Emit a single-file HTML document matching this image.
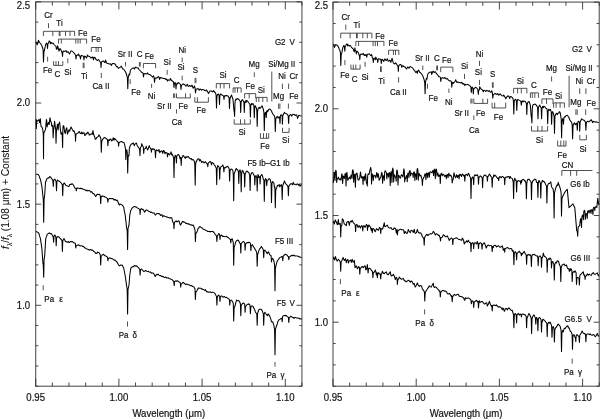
<!DOCTYPE html>
<html><head><meta charset="utf-8"><style>html,body{margin:0;padding:0;background:#fff;width:600px;height:419px;overflow:hidden}svg{display:block}</style></head><body>
<svg width="600" height="419" viewBox="0 0 600 419">
<style>text{font-family:"Liberation Sans",sans-serif;fill:#111;stroke:#111;stroke-width:0.18}.fr{fill:none;stroke:#555;stroke-width:1.1}.tk{stroke:#333;stroke-width:0.9}.an{stroke:#333;stroke-width:0.85}.sp{fill:none;stroke:#000;stroke-width:1.05;stroke-linejoin:round}</style>
<rect width="600" height="419" fill="#fff"/>
<g style="will-change:transform">
<rect x="35.7" y="1.85" width="266.24" height="384.37" class="fr"/>
<line x1="35.7" y1="386.22" x2="35.7" y2="378.72" class="tk"/>
<line x1="35.7" y1="1.85" x2="35.7" y2="9.35" class="tk"/>
<text transform="translate(35.7,400.8) scale(1,1.06)" font-size="9.6" text-anchor="middle">0.95</text>
<line x1="52.34" y1="386.22" x2="52.34" y2="382.52" class="tk"/>
<line x1="52.34" y1="1.85" x2="52.34" y2="5.55" class="tk"/>
<line x1="68.98" y1="386.22" x2="68.98" y2="382.52" class="tk"/>
<line x1="68.98" y1="1.85" x2="68.98" y2="5.55" class="tk"/>
<line x1="85.62" y1="386.22" x2="85.62" y2="382.52" class="tk"/>
<line x1="85.62" y1="1.85" x2="85.62" y2="5.55" class="tk"/>
<line x1="102.26" y1="386.22" x2="102.26" y2="382.52" class="tk"/>
<line x1="102.26" y1="1.85" x2="102.26" y2="5.55" class="tk"/>
<line x1="118.9" y1="386.22" x2="118.9" y2="378.72" class="tk"/>
<line x1="118.9" y1="1.85" x2="118.9" y2="9.35" class="tk"/>
<text transform="translate(118.9,400.8) scale(1,1.06)" font-size="9.6" text-anchor="middle">1.00</text>
<line x1="135.54" y1="386.22" x2="135.54" y2="382.52" class="tk"/>
<line x1="135.54" y1="1.85" x2="135.54" y2="5.55" class="tk"/>
<line x1="152.18" y1="386.22" x2="152.18" y2="382.52" class="tk"/>
<line x1="152.18" y1="1.85" x2="152.18" y2="5.55" class="tk"/>
<line x1="168.82" y1="386.22" x2="168.82" y2="382.52" class="tk"/>
<line x1="168.82" y1="1.85" x2="168.82" y2="5.55" class="tk"/>
<line x1="185.46" y1="386.22" x2="185.46" y2="382.52" class="tk"/>
<line x1="185.46" y1="1.85" x2="185.46" y2="5.55" class="tk"/>
<line x1="202.1" y1="386.22" x2="202.1" y2="378.72" class="tk"/>
<line x1="202.1" y1="1.85" x2="202.1" y2="9.35" class="tk"/>
<text transform="translate(202.1,400.8) scale(1,1.06)" font-size="9.6" text-anchor="middle">1.05</text>
<line x1="218.74" y1="386.22" x2="218.74" y2="382.52" class="tk"/>
<line x1="218.74" y1="1.85" x2="218.74" y2="5.55" class="tk"/>
<line x1="235.38" y1="386.22" x2="235.38" y2="382.52" class="tk"/>
<line x1="235.38" y1="1.85" x2="235.38" y2="5.55" class="tk"/>
<line x1="252.02" y1="386.22" x2="252.02" y2="382.52" class="tk"/>
<line x1="252.02" y1="1.85" x2="252.02" y2="5.55" class="tk"/>
<line x1="268.66" y1="386.22" x2="268.66" y2="382.52" class="tk"/>
<line x1="268.66" y1="1.85" x2="268.66" y2="5.55" class="tk"/>
<line x1="285.3" y1="386.22" x2="285.3" y2="378.72" class="tk"/>
<line x1="285.3" y1="1.85" x2="285.3" y2="9.35" class="tk"/>
<text transform="translate(285.3,400.8) scale(1,1.06)" font-size="9.6" text-anchor="middle">1.10</text>
<line x1="301.94" y1="386.22" x2="301.94" y2="382.52" class="tk"/>
<line x1="301.94" y1="1.85" x2="301.94" y2="5.55" class="tk"/>
<line x1="35.7" y1="386.22" x2="38.4" y2="386.22" class="tk"/>
<line x1="301.94" y1="386.22" x2="299.24" y2="386.22" class="tk"/>
<line x1="35.7" y1="365.99" x2="38.4" y2="365.99" class="tk"/>
<line x1="301.94" y1="365.99" x2="299.24" y2="365.99" class="tk"/>
<line x1="35.7" y1="345.76" x2="38.4" y2="345.76" class="tk"/>
<line x1="301.94" y1="345.76" x2="299.24" y2="345.76" class="tk"/>
<line x1="35.7" y1="325.53" x2="38.4" y2="325.53" class="tk"/>
<line x1="301.94" y1="325.53" x2="299.24" y2="325.53" class="tk"/>
<line x1="35.7" y1="305.3" x2="41.2" y2="305.3" class="tk"/>
<line x1="301.94" y1="305.3" x2="296.44" y2="305.3" class="tk"/>
<text transform="translate(30.2,308.7) scale(1,1.06)" font-size="9.6" text-anchor="end">1.0</text>
<line x1="35.7" y1="285.07" x2="38.4" y2="285.07" class="tk"/>
<line x1="301.94" y1="285.07" x2="299.24" y2="285.07" class="tk"/>
<line x1="35.7" y1="264.84" x2="38.4" y2="264.84" class="tk"/>
<line x1="301.94" y1="264.84" x2="299.24" y2="264.84" class="tk"/>
<line x1="35.7" y1="244.61" x2="38.4" y2="244.61" class="tk"/>
<line x1="301.94" y1="244.61" x2="299.24" y2="244.61" class="tk"/>
<line x1="35.7" y1="224.38" x2="38.4" y2="224.38" class="tk"/>
<line x1="301.94" y1="224.38" x2="299.24" y2="224.38" class="tk"/>
<line x1="35.7" y1="204.15" x2="41.2" y2="204.15" class="tk"/>
<line x1="301.94" y1="204.15" x2="296.44" y2="204.15" class="tk"/>
<text transform="translate(30.2,207.55) scale(1,1.06)" font-size="9.6" text-anchor="end">1.5</text>
<line x1="35.7" y1="183.92" x2="38.4" y2="183.92" class="tk"/>
<line x1="301.94" y1="183.92" x2="299.24" y2="183.92" class="tk"/>
<line x1="35.7" y1="163.69" x2="38.4" y2="163.69" class="tk"/>
<line x1="301.94" y1="163.69" x2="299.24" y2="163.69" class="tk"/>
<line x1="35.7" y1="143.46" x2="38.4" y2="143.46" class="tk"/>
<line x1="301.94" y1="143.46" x2="299.24" y2="143.46" class="tk"/>
<line x1="35.7" y1="123.23" x2="38.4" y2="123.23" class="tk"/>
<line x1="301.94" y1="123.23" x2="299.24" y2="123.23" class="tk"/>
<line x1="35.7" y1="103" x2="41.2" y2="103" class="tk"/>
<line x1="301.94" y1="103" x2="296.44" y2="103" class="tk"/>
<text transform="translate(30.2,106.4) scale(1,1.06)" font-size="9.6" text-anchor="end">2.0</text>
<line x1="35.7" y1="82.77" x2="38.4" y2="82.77" class="tk"/>
<line x1="301.94" y1="82.77" x2="299.24" y2="82.77" class="tk"/>
<line x1="35.7" y1="62.54" x2="38.4" y2="62.54" class="tk"/>
<line x1="301.94" y1="62.54" x2="299.24" y2="62.54" class="tk"/>
<line x1="35.7" y1="42.31" x2="38.4" y2="42.31" class="tk"/>
<line x1="301.94" y1="42.31" x2="299.24" y2="42.31" class="tk"/>
<line x1="35.7" y1="22.08" x2="38.4" y2="22.08" class="tk"/>
<line x1="301.94" y1="22.08" x2="299.24" y2="22.08" class="tk"/>
<line x1="35.7" y1="1.85" x2="41.2" y2="1.85" class="tk"/>
<line x1="301.94" y1="1.85" x2="296.44" y2="1.85" class="tk"/>
<text transform="translate(30.2,8.6) scale(1,1.06)" font-size="9.6" text-anchor="end">2.5</text>
<text transform="translate(168.82,416.7) scale(1,1.06)" font-size="9.6" text-anchor="middle">Wavelength (μm)</text>
<rect x="333" y="2.1" width="266.24" height="384.12" class="fr"/>
<line x1="333" y1="386.22" x2="333" y2="378.72" class="tk"/>
<line x1="333" y1="2.1" x2="333" y2="9.6" class="tk"/>
<text transform="translate(333,400.8) scale(1,1.06)" font-size="9.6" text-anchor="middle">0.95</text>
<line x1="349.64" y1="386.22" x2="349.64" y2="382.52" class="tk"/>
<line x1="349.64" y1="2.1" x2="349.64" y2="5.8" class="tk"/>
<line x1="366.28" y1="386.22" x2="366.28" y2="382.52" class="tk"/>
<line x1="366.28" y1="2.1" x2="366.28" y2="5.8" class="tk"/>
<line x1="382.92" y1="386.22" x2="382.92" y2="382.52" class="tk"/>
<line x1="382.92" y1="2.1" x2="382.92" y2="5.8" class="tk"/>
<line x1="399.56" y1="386.22" x2="399.56" y2="382.52" class="tk"/>
<line x1="399.56" y1="2.1" x2="399.56" y2="5.8" class="tk"/>
<line x1="416.2" y1="386.22" x2="416.2" y2="378.72" class="tk"/>
<line x1="416.2" y1="2.1" x2="416.2" y2="9.6" class="tk"/>
<text transform="translate(416.2,400.8) scale(1,1.06)" font-size="9.6" text-anchor="middle">1.00</text>
<line x1="432.84" y1="386.22" x2="432.84" y2="382.52" class="tk"/>
<line x1="432.84" y1="2.1" x2="432.84" y2="5.8" class="tk"/>
<line x1="449.48" y1="386.22" x2="449.48" y2="382.52" class="tk"/>
<line x1="449.48" y1="2.1" x2="449.48" y2="5.8" class="tk"/>
<line x1="466.12" y1="386.22" x2="466.12" y2="382.52" class="tk"/>
<line x1="466.12" y1="2.1" x2="466.12" y2="5.8" class="tk"/>
<line x1="482.76" y1="386.22" x2="482.76" y2="382.52" class="tk"/>
<line x1="482.76" y1="2.1" x2="482.76" y2="5.8" class="tk"/>
<line x1="499.4" y1="386.22" x2="499.4" y2="378.72" class="tk"/>
<line x1="499.4" y1="2.1" x2="499.4" y2="9.6" class="tk"/>
<text transform="translate(499.4,400.8) scale(1,1.06)" font-size="9.6" text-anchor="middle">1.05</text>
<line x1="516.04" y1="386.22" x2="516.04" y2="382.52" class="tk"/>
<line x1="516.04" y1="2.1" x2="516.04" y2="5.8" class="tk"/>
<line x1="532.68" y1="386.22" x2="532.68" y2="382.52" class="tk"/>
<line x1="532.68" y1="2.1" x2="532.68" y2="5.8" class="tk"/>
<line x1="549.32" y1="386.22" x2="549.32" y2="382.52" class="tk"/>
<line x1="549.32" y1="2.1" x2="549.32" y2="5.8" class="tk"/>
<line x1="565.96" y1="386.22" x2="565.96" y2="382.52" class="tk"/>
<line x1="565.96" y1="2.1" x2="565.96" y2="5.8" class="tk"/>
<line x1="582.6" y1="386.22" x2="582.6" y2="378.72" class="tk"/>
<line x1="582.6" y1="2.1" x2="582.6" y2="9.6" class="tk"/>
<text transform="translate(582.6,400.8) scale(1,1.06)" font-size="9.6" text-anchor="middle">1.10</text>
<line x1="599.24" y1="386.22" x2="599.24" y2="382.52" class="tk"/>
<line x1="599.24" y1="2.1" x2="599.24" y2="5.8" class="tk"/>
<line x1="333" y1="386.22" x2="335.7" y2="386.22" class="tk"/>
<line x1="599.24" y1="386.22" x2="596.54" y2="386.22" class="tk"/>
<line x1="333" y1="364.88" x2="335.7" y2="364.88" class="tk"/>
<line x1="599.24" y1="364.88" x2="596.54" y2="364.88" class="tk"/>
<line x1="333" y1="343.54" x2="335.7" y2="343.54" class="tk"/>
<line x1="599.24" y1="343.54" x2="596.54" y2="343.54" class="tk"/>
<line x1="333" y1="322.2" x2="338.5" y2="322.2" class="tk"/>
<line x1="599.24" y1="322.2" x2="593.74" y2="322.2" class="tk"/>
<text transform="translate(328,325.6) scale(1,1.06)" font-size="9.6" text-anchor="end">1.0</text>
<line x1="333" y1="300.86" x2="335.7" y2="300.86" class="tk"/>
<line x1="599.24" y1="300.86" x2="596.54" y2="300.86" class="tk"/>
<line x1="333" y1="279.52" x2="335.7" y2="279.52" class="tk"/>
<line x1="599.24" y1="279.52" x2="596.54" y2="279.52" class="tk"/>
<line x1="333" y1="258.18" x2="335.7" y2="258.18" class="tk"/>
<line x1="599.24" y1="258.18" x2="596.54" y2="258.18" class="tk"/>
<line x1="333" y1="236.84" x2="335.7" y2="236.84" class="tk"/>
<line x1="599.24" y1="236.84" x2="596.54" y2="236.84" class="tk"/>
<line x1="333" y1="215.5" x2="338.5" y2="215.5" class="tk"/>
<line x1="599.24" y1="215.5" x2="593.74" y2="215.5" class="tk"/>
<text transform="translate(328,218.9) scale(1,1.06)" font-size="9.6" text-anchor="end">1.5</text>
<line x1="333" y1="194.16" x2="335.7" y2="194.16" class="tk"/>
<line x1="599.24" y1="194.16" x2="596.54" y2="194.16" class="tk"/>
<line x1="333" y1="172.82" x2="335.7" y2="172.82" class="tk"/>
<line x1="599.24" y1="172.82" x2="596.54" y2="172.82" class="tk"/>
<line x1="333" y1="151.48" x2="335.7" y2="151.48" class="tk"/>
<line x1="599.24" y1="151.48" x2="596.54" y2="151.48" class="tk"/>
<line x1="333" y1="130.14" x2="335.7" y2="130.14" class="tk"/>
<line x1="599.24" y1="130.14" x2="596.54" y2="130.14" class="tk"/>
<line x1="333" y1="108.8" x2="338.5" y2="108.8" class="tk"/>
<line x1="599.24" y1="108.8" x2="593.74" y2="108.8" class="tk"/>
<text transform="translate(328,112.2) scale(1,1.06)" font-size="9.6" text-anchor="end">2.0</text>
<line x1="333" y1="87.46" x2="335.7" y2="87.46" class="tk"/>
<line x1="599.24" y1="87.46" x2="596.54" y2="87.46" class="tk"/>
<line x1="333" y1="66.12" x2="335.7" y2="66.12" class="tk"/>
<line x1="599.24" y1="66.12" x2="596.54" y2="66.12" class="tk"/>
<line x1="333" y1="44.78" x2="335.7" y2="44.78" class="tk"/>
<line x1="599.24" y1="44.78" x2="596.54" y2="44.78" class="tk"/>
<line x1="333" y1="23.44" x2="335.7" y2="23.44" class="tk"/>
<line x1="599.24" y1="23.44" x2="596.54" y2="23.44" class="tk"/>
<line x1="333" y1="2.1" x2="338.5" y2="2.1" class="tk"/>
<line x1="599.24" y1="2.1" x2="593.74" y2="2.1" class="tk"/>
<text transform="translate(328,8.6) scale(1,1.06)" font-size="9.6" text-anchor="end">2.5</text>
<text transform="translate(466.12,416.7) scale(1,1.06)" font-size="9.6" text-anchor="middle">Wavelength (μm)</text>
<text transform="translate(8.7,192.4) rotate(-90)" font-size="10.1" text-anchor="middle" style="stroke-width:0.08"><tspan font-style="italic">f</tspan><tspan font-size="6.5" dy="3.1">λ</tspan><tspan dy="-3.1">/</tspan><tspan font-style="italic">f</tspan><tspan font-size="6.5" dy="3.1">λ</tspan><tspan dy="-3.1"> (1.08 μm) + Constant</tspan></text>
<polyline points="36,42 37.2,44.67 38,42.8 38.4,40.26 39.5,42.5 40.5,43.5 41.5,45 42,46.36 42.5,47.5 43.1,49.67 43.5,62 43.9,51.8 44.5,50 45.5,45 46.5,43 47.1,43.83 47.5,48.5 47.9,43.83 48.5,43 49.2,41 50,41.5 50.4,43.76 51,42.5 51.6,43.05 52,43.5 53,43 54,44.5 55,45.5 56,46.5 56.4,49.24 57,49 57.6,45.66 58,47.5 59,51 60,48.5 61,50 62,52.5 62.25,53.1 62.5,56.5 62.9,51.83 63.5,51 65,51.5 66,50.5 67,52.5 68,51.5 68.4,52.51 69.5,54 71,51 72,51 73.5,52.5 74.4,53.47 75,54.5 75.6,55.17 76,59 76.4,55.6 77,55 78,55.26 78.5,54 79.5,56 80.1,56.45 80.5,59 80.9,56.02 81.5,55.5 83,56 83.6,56.6 84,60 84.4,56.6 85,56 86.5,58 87.6,54.98 88,56 88.8,56.28 89.5,56.5 90,56.89 91,58 92.5,57 93.6,59.71 94,57.2 94.8,57.21 96,59.5 97.5,60.5 98.5,59.5 99.5,61 100.5,62.5 100.75,63.25 101,67.5 101.4,62.4 102,61.5 103,61 104,61.5 104.4,62.25 105,62.5 105.6,60.07 106.5,63 108,63.5 109.2,64.02 110,64 110.4,63.84 111.6,65.36 112,64 112.8,63.58 114,63.5 115.5,64.5 116.4,66.7 117,66.5 117.6,66.9 118.5,68.5 119.5,67.5 120,67.49 120.5,67 121.2,66.11 122,67.5 122.4,68.67 123.5,69 125,71 126,73 127,76 127.4,77.91 127.8,88.7 128.2,77.91 128.6,76 129.2,74 129.6,75 130.5,70 132,68.5 133.2,68.06 134,68 134.4,69.09 135.6,67.11 136,67.5 136.8,67.85 137.5,68 138,67.71 139,69.5 140.5,71 141.6,72.34 142,72.5 143.1,73.17 143.5,77 143.9,74.03 145,73.5 146.5,74 147.6,72.8 148,74 148.8,74.32 149.5,74.5 150,74.61 151,75.5 152,76.5 152.4,77.23 153,76.5 153.6,75.8 154.1,77.4 154.5,82.5 154.9,78.67 155.5,78 156,78.44 156.5,78 157.5,77.5 158.4,76.65 159,77 159.6,79.38 160.5,77.5 162,78 163.5,78.5 164.4,78.4 165,78.5 165.6,79.42 166.5,79 167.5,81 168,79.82 168.5,80 169.2,80.31 170,80 170.4,78.43 171.5,80.5 173,81.5 173.6,82.4 174,87.5 174.4,83.25 175,82.5 175.6,83.47 176,89 176.4,84.33 177,83.5 177.6,83.96 178,82.5 179,83 180,84 180.6,84.83 181,89.5 181.4,85.67 182,85 182.4,84.29 183.5,84 185,85 186,86.12 186.5,85.5 187.2,84.3 188,86 188.4,86.35 189.5,85.5 191,86.5 192,85.12 192.5,86.5 193.2,88.31 194,87 194.4,85.89 195.1,87.9 195.5,93 195.9,89.6 197,89 198,88.5 199.2,90.27 200,89 200.4,89.05 201.6,90.2 202,89.5 202.8,89.52 204,90 205.2,90.81 206,90.8 206.4,89.9 207.5,91.5 208.5,93.5 210,91 211.5,91 212.4,91.95 213,91.5 213.6,90.47 214.5,92 215.6,93 216.1,95.25 216.5,108 216.9,96.53 217.5,94.5 218.5,94 219.1,95.58 219.5,104.5 219.9,95.58 220.5,94 222,95 223,95.5 223.6,96.1 224,99.5 224.4,96.1 225,95.5 225.6,95.98 226.5,95.5 228,96 229.1,97.88 229.5,108.5 229.9,98.72 230.5,97 231.6,95.06 232,96.5 233,99.5 234,111 234.3,111.83 234.6,116.5 235,102.47 235.4,100 236,99 236.4,99.7 237.5,98.5 239,99.5 240.3,101.45 240.7,112.5 241.1,102.3 241.7,100.5 242.4,99.66 243,100.5 243.9,102.3 244.3,112.5 244.7,102.55 245.3,100.8 246,102.53 246.5,100.5 247.5,101 248.5,102.5 249.6,104 250,104.69 250.4,117.1 250.8,105.45 251.5,103.4 252,104.52 253,103.5 253.9,105.63 254.3,117.7 254.7,107.5 255.3,105.7 256.2,107.6 256.8,110.39 257.2,126.2 257.6,111.24 258.1,108.6 259.1,107.2 260,108.6 260.4,107.9 261,107.2 261.6,106.57 262,105.7 262.8,107.85 263.4,109.5 263.9,112.65 264.3,130.5 264.7,115.12 265.3,112.4 265.8,113.2 266.2,117.7 266.6,111.58 267.2,110.5 267.6,111.87 268.6,109.5 270,109.1 271.5,111 272.4,113.4 273.4,114.8 274.3,115.7 274.9,118.07 275.3,131.5 275.7,119.77 276.2,117.7 277.2,116.2 278.1,118.1 279.1,116.7 279.6,117.7 280,123.4 280.4,116.09 281,114.8 282,115.5 282.2,116.82 282.4,124.3 282.8,115.8 283.4,114.3 284.4,112.4 285.3,113.4 286.7,113.8 287.7,114.8 288.2,116.09 288.6,123.4 289,116.52 289.6,115.3 290.4,114.55 291,114.8 291.6,116.12 293,114.3 294,114.42 294.8,114.8 295.2,115.43 296.4,114.78 296.8,115.3 297.6,118.42 298.7,115.3 300,115.7 301.5,116" class="sp"/>
<polyline points="36,119.16 36.18,120.55 36.36,128.46 36.54,121.77 36.72,120.59 37.43,121.3 38.5,119.87 39.18,120.3 39.58,122.73 39.94,119.39 40.29,118.8 41.01,126.31 42.08,127.38 42.8,129.89 43.23,133.47 43.37,137.26 43.51,158.73 43.66,137.26 43.8,133.47 44.23,132.04 44.94,130.96 45.66,128.46 46.38,119.51 46.73,120.64 47.09,127.03 47.45,124.9 47.81,124.52 48.52,122.38 49.24,124.52 49.95,117.72 50.67,121.3 51.38,122.73 51.74,126.31 52.46,125.24 52.81,127.12 53.17,137.76 53.53,129.86 53.89,128.46 54.6,121.3 55.32,127.03 55.68,129.44 56.04,143.13 56.39,131.26 56.75,129.17 57.47,124.16 57.83,125.02 58.18,129.89 58.54,124.42 58.9,123.45 59.25,123.45 59.61,122.02 60.33,129.17 61.04,134.18 61.76,132.75 62.22,134.95 62.62,147.42 62.91,128.87 63.19,125.6 63.91,126.31 64.62,132.04 65.34,133.47 66.05,129.17 66.77,127.74 67.48,134.18 68.2,132.04 68.92,129.89 69.63,131.32 70.35,128.46 71.06,127.03 71.78,128.46 72.49,129.89 73.21,131.32 73.92,130.6 75,133.47 75.25,134.65 75.5,141.34 75.9,134.76 76.5,133.93 77,133.6 77,133.6 78,133.03 79.1,131.5 79.5,131.72 80.25,133.52 81.3,133.6 81.75,131.93 82.5,133.71 83.4,133 84,132.72 84.75,135.41 85.6,135 86.25,133.21 87,133.7 87.7,132.2 88.5,132.87 89.25,135.1 89.9,134.9 90.75,133.9 91.8,133.7 92.25,134.45 93,130.58 93.6,134.3 94.8,137.3 95.25,139.28 96,139.1 96.75,137.54 97.2,137.3 98.25,136.64 98.9,134.9 100.1,136.7 100.5,137.57 100.9,139.02 101.3,152.2 101.7,141.57 102.5,139.7 103.7,137.9 104.25,137.88 104.9,137.3 106.1,138.5 106.5,138.75 107.5,139.58 107.9,145.7 108.3,140.6 109.1,139.7 109.5,140.51 110.25,139.11 110.9,139.1 111.75,141.07 112.7,139.7 113.25,137.75 114,140.23 114.5,138.5 115.5,139.27 116.3,140.3 117,141.08 117.4,141.5 118.2,142.22 118.6,146.3 119,142.73 119.8,142.1 121,141.5 121.5,141.43 122.25,142.19 122.8,142.1 124,142.7 124.5,144.13 125.2,147.4 125.5,149.2 125.8,159.4 126.2,151.24 126.8,149.8 127.3,153.28 127.7,173 128.1,157.7 128.6,155 129,155.5 129.4,148 130.5,145.24 131.2,143.9 132,143.95 133,143.3 133.5,143.03 134.25,145.72 134.7,144.5 135.9,143.3 136.5,143.08 137.25,145.78 137.7,146.3 138.9,148 139.6,149.17 140,155.8 140.4,147.73 141.3,146.3 141.75,143.69 142.5,145.7 143.3,146.85 143.7,153.4 144.1,149.32 144.9,148.6 145.5,148.56 146.25,146.21 146.7,148 147.75,149.94 148.4,148.1 149.25,145.64 150.2,148.1 151,148.73 151.4,152.3 151.8,149.24 152.6,148.7 153,149.47 153.75,148.93 154.4,149.3 155.1,150.56 155.5,157.7 155.9,151.07 156.7,149.9 157.5,150.48 158.5,151.1 159,149.52 159.75,152.83 160.3,151.7 161.25,151.06 162.1,151.1 162.75,153.38 163.5,150.48 163.9,150.5 165,153.68 165.7,152.3 166.5,152.69 167.1,153 167.5,157 167.9,154.03 168.7,153.5 169.5,154.88 170.5,153.5 171,151.86 171.75,154.9 172.3,154.1 173.6,157.59 174,177.4 174.4,158.62 175.2,155.3 176,156.46 176.4,163 176.8,155.94 177.6,154.7 178.5,154.58 179.4,155.9 180,158.76 180.8,157.33 181.2,165.4 181.6,158.26 182.4,157 183,155.43 183.6,155.9 184.5,157.31 185.4,158.3 186,156.61 186.75,157.5 187.2,157 188.25,156.45 189,157.7 189.75,158.44 190.7,158.9 191.25,158.45 192,160.06 192.5,159.5 193.7,160 194.25,161.41 194.8,163.76 195.2,185.1 195.6,164.87 196.1,161.3 196.5,161.5 197.3,159.5 198,158.77 199.1,158.9 199.5,160.96 200.25,159.59 200.9,160.7 201.75,162.45 202.5,161.5 203.25,161.8 204,163.03 204.5,162.4 205.5,161.66 206.5,163.3 207,163.87 207.4,163.81 207.8,166.7 208.2,163.13 209,162.5 210,161.45 210.7,161.9 211.5,164.86 211.9,162.5 213,163.04 213.7,163.7 214.5,165.21 214.9,165.5 216.3,168.37 216.7,184.6 217.1,168.37 217.5,166.63 217.9,165.5 219.3,167.56 219.7,179.2 220.1,168.57 220.5,168.4 220.9,166.7 222.1,166.1 222.75,164.91 223.5,166.98 223.9,172 224.3,168 225.1,167.3 225.75,167.67 226.8,166.7 227.25,166.31 228,166.7 228.75,168.05 229.2,168.84 229.6,181 230,170.88 231,169.1 231.75,169.22 232.8,170.3 233.3,174.88 233.7,200.8 234.1,173.85 234.75,172.54 235.8,169.1 236.25,168.53 237,169.83 237.6,169.7 238.4,171.75 238.8,183.4 239.2,171.75 240,169.7 240.8,173.01 241.2,191.8 241.6,174.03 242.25,170.36 243,170.9 243.75,173.34 244.3,173.31 244.7,187 245.1,174.34 245.9,172.1 246.75,170.99 247.7,171.5 248.25,172.55 248.9,172.7 249.7,175.38 250.1,190.6 250.5,175.9 251.3,173.3 252,172.56 253,173.1 253.5,174.66 254.2,175.5 254.5,176.93 254.8,185 255.2,176.93 256,175.5 256.8,177.82 257.2,191 257.6,177.82 258,174.46 258.4,175.5 258.75,177.43 259.5,176.7 259.8,177.78 260.1,183.9 260.5,176.25 261.3,174.9 261.75,174.5 262.5,176 263.25,179.05 263.9,179.78 264.3,201.2 264.7,181.91 265.5,178.5 266.3,179.58 266.7,185.7 267.1,181.11 267.9,180.3 268.5,179.19 269.1,178.5 270.3,179.7 270.75,182.39 271.1,183.1 271.5,202.4 271.9,184.63 272.25,181.81 272.7,181.5 273.9,183.3 274.5,187.87 274.9,186.96 275.3,207.7 275.7,190.44 276.8,187.4 277.5,185.22 278,186 279.2,184.5 279.75,186.94 280.4,186 281.3,184.5 281.8,186.74 282.2,199.4 282.6,186.22 283.4,183.9 284.25,181.49 284.6,180.9 285,182.74 285.8,183.9 286.5,184.43 287,185 288,186.62 288.4,195.8 288.8,186.19 289.5,185.46 290,184.5 291,183.57 291.8,183.9 292.5,184.58 293.25,182.36 293.6,183.9 294,184.29 294.75,184.09 295.3,184.5 296.25,184.81 297.1,183.9 297.75,184.08 298.5,185.35 298.9,184.5 299.25,184.37 300,186.16 300.7,185 301.8,185" class="sp"/>
<polyline points="36,174.3 36.75,174.33 37.6,174.3 38.25,174.51 39,175.7 39.75,177.95 40.4,179.3 41.25,183.03 41.9,186.5 42.9,195.8 43.3,199.78 43.7,222.3 44.1,199.09 44.7,195 45.5,182.2 46.5,179.72 46.9,178.6 47.25,178.33 48.3,177.9 48.75,178.14 49.8,176.5 50.25,176.89 51.2,177.9 51.75,178.74 52.6,180 52.95,180.97 53.3,186.5 53.7,180.38 54.3,179.3 54.75,179.31 55.5,180 56.1,181.62 56.5,190.8 56.9,181.62 57.6,180 58.5,181.01 59.25,181.11 59.8,181.5 60.75,182.66 61.2,182.9 62.3,184.84 62.7,195.8 63.1,184.84 64.1,182.9 64.5,183.16 65.5,185 66,185.4 67,185.8 67.5,185.9 68.4,186.5 69,186.34 69.75,184.56 70.5,184.3 71.25,184.52 72,183.6 72.75,184.27 73.4,185 74.25,186.82 74.8,187.9 75.9,188.34 76.3,190.8 76.7,188.34 77.25,187.98 77.7,187.9 78.75,188.27 79.8,188.6 80.25,188.13 81,188.63 82,188.6 82.5,188.71 83.25,189.34 84.1,189.4 84.75,189.52 85.5,190.43 86.3,190.8 87,190.09 87.75,190.98 88.4,190.8 89.25,190.34 90.3,191.5 90.75,192.17 91.5,191.58 92.1,192.2 93,193.83 93.75,193.5 94.3,194.3 95.25,195.91 95.7,196.5 96.75,194.85 97.2,194.3 98.25,194.46 99.3,194.3 99.75,194.74 100.3,195.7 100.7,203.6 101.1,196.97 102.2,195.8 102.75,196.35 103.5,196.15 104.3,196.5 105,197.15 105.75,197.21 106.5,197.9 107.5,198.55 107.9,202.2 108.3,199.14 108.75,199.24 109.3,198.6 110.25,198.58 111,198.88 111.5,198.6 112.5,198.56 113.6,199.3 114,200.08 114.75,199.28 115.8,200 116.25,200.66 117,200.12 117.9,201.5 118.5,203.61 119.4,205.1 120,203.96 120.8,204.4 121.5,204.85 122.2,205.1 123,206.04 123.7,207.2 124.5,211.89 125.1,214.4 126,222 126.5,227.3 127.2,230.62 127.6,249.4 128,228.66 129,225 129.8,215 130.8,210.1 131.25,209.88 132,208.26 133,207.2 133.5,207.09 134.25,206.55 135.1,206.5 135.75,207.14 136.5,206.99 137.3,207.9 138,208.28 138.7,208.6 139.7,209.47 140.1,214.4 140.5,209.47 141,208.95 141.6,208.6 142.5,209.76 143,209.4 144,210.56 144.4,212.2 145.5,211.12 145.9,210 147,210.07 148.1,210.8 148.5,211.22 149.25,211.43 150.3,212.2 150.75,212.51 151.5,212.02 152.4,212.9 153,212.97 153.9,212.9 154.5,213.77 155.3,215.1 156,214.43 156.7,213.6 157.5,213.53 158.25,213.66 158.9,213.6 159.75,213.9 160.5,215.46 161,215.1 162,214.75 162.75,216.92 163.2,215.8 164.25,216.11 165.3,216.5 165.75,216.69 166.5,216.75 167.5,217.2 168,217.44 168.75,217.56 169.6,217.9 170.25,218.02 171,217.56 171.8,217.9 172.5,220.79 172.9,222.2 173.6,223.17 174,228.7 174.35,223.17 174.7,222.2 175.5,221.27 176.1,220.8 177,221.93 177.5,221.5 178.5,220.85 179,220.8 180,224.22 180.4,225.1 181.8,222.9 182.25,221.64 183.2,221.5 183.75,222.12 184.5,222.12 185.4,222.9 186,223.54 186.75,223.31 187.5,223.7 188.25,224.23 189,223.81 189.7,224.4 190.5,225.12 191.25,224.74 191.8,225.1 192.75,225.49 193.3,225.1 194.4,228 195,230.04 195.4,241.6 195.8,233.61 196.5,232.56 196.9,232.2 198.3,228 198.75,228.03 199.7,226.5 200.25,226.64 201,227.41 201.9,228 202.5,228.08 203.25,229.26 204.3,229.5 204.75,229.68 205.5,230.18 206.4,230.6 207,230.83 207.75,231.55 208.6,231.5 209.25,231.27 210,231.98 210.7,231.5 211.5,231.44 212.25,231.58 212.9,231.5 213.75,232.26 214.3,232.9 215.25,234.57 215.8,235.1 216.5,236.06 216.9,241.5 217.3,236.06 217.9,235.1 218.6,233.6 219,233.67 219.6,234.47 220,239.4 220.4,235.75 221.5,235.1 222,235.74 222.9,236.5 223.5,236.21 224.4,236.5 225,236.65 225.8,236.5 226.5,236.18 227.25,237.11 227.9,237.2 228.75,238.03 229.4,238.7 230.4,239.34 230.8,243 231.2,239.34 231.75,239.39 232.2,238.7 233.3,242.67 233.7,265.2 234.1,247.52 235.1,244.4 235.5,242.57 236.5,240.8 237,240.57 238,240.1 238.5,240.46 239.4,242.2 240,243.43 240.4,243.82 240.8,253 241.2,243.82 242.3,242.2 243,241.68 243.7,241.5 244.7,242.79 245.1,250.1 245.5,244.06 246,243.78 246.6,243 247.5,242.43 248.25,242.69 248.7,242.2 249.75,242.61 250.5,243.49 250.9,250.8 251.3,245.61 252,245.14 252.4,244.7 253.6,247.1 254.25,247.75 254.8,248.9 256,250.7 256.8,253.02 257.2,266.2 257.6,254.47 258,253.45 258.4,252.4 258.75,251.21 259.5,248.9 260.25,248.42 261.3,246.5 261.75,246.9 262.5,248.2 263.3,249.64 263.7,257.8 264.1,251.17 264.9,250 265.5,250.99 266.1,251.8 267.3,253.6 267.75,252.69 268.5,251.8 269.25,253.76 269.7,254.8 270.75,255.37 271.1,255.88 271.5,262 271.9,258.94 272.25,258.85 272.7,258.4 273.9,260.8 274.6,265.3 275,290.8 275.4,268.36 276.3,264.4 276.75,262.58 277.4,260.8 278.25,259.72 279.2,258.4 279.75,257.7 280.4,257.2 281.25,256.91 281.6,256.6 282,256.63 282.4,257.23 282.8,260.8 283.2,256.21 284,255.4 285.2,254.2 285.75,254.66 286.4,254.8 287.25,255.32 287.6,256 288,256.4 288.4,256.54 288.8,259.6 289.2,257.05 290,256.6 291,255.77 291.8,255.4 292.5,255.66 293.25,254.97 293.6,255.4 294,255.83 294.75,255.55 295.3,256 296.25,256.03 297.1,256 297.75,256.04 298.5,256.69 298.9,256.6 299.25,256.67 300,257.2 300.7,257.2 301.8,257.4" class="sp"/>
<polyline points="36,231.5 36.75,231.84 37.6,232.2 38.25,232.69 39,233.6 39.75,236.44 40.4,238.6 41.25,244.2 41.9,248.7 42.9,263 43.3,265.14 43.7,277.3 44.1,259.03 44.7,255.8 45.7,238.6 46.5,236.63 47.2,234.3 48.3,233.6 48.75,233.25 49.8,232.9 50.25,233.67 51.2,233.6 51.75,234.15 52.6,235.8 53.2,236.76 53.6,242.2 54,236.08 54.8,235 55.8,236.62 56.2,245.8 56.6,237.9 57,237.36 57.6,236.5 58.5,236.67 59.1,237.2 60,238.37 60.5,238.6 61.5,239.83 62,240.53 62.4,251.5 62.8,240.53 64.1,238.6 64.5,239.51 65.5,241.5 66,241.51 66.75,242.08 67.7,242.2 68.25,241.42 69,242.5 69.8,242.2 70.5,241.42 71.25,241.81 72,241.5 72.75,241.78 73.5,242.68 74.1,242.9 75,242.96 75.4,243.65 75.8,247.9 76.2,245.52 77.25,245.3 77.7,245.1 78.75,244.77 79.8,245.8 80.25,245.91 81,245.7 82,245.8 82.5,246.54 83.25,246.31 84.1,247.2 84.75,247.86 85.5,248.15 86.3,248.7 87,249.08 87.75,249.16 88.4,249.4 89.25,250.18 90.3,249.7 90.75,249.49 91.5,250.18 92.1,250 93,250.53 93.75,251.51 94.3,251.5 95.25,252.68 95.7,253.6 96.75,253.43 97.5,252 97.9,252.2 99.3,252.9 99.75,254.08 100.3,254.73 100.7,265.1 101.1,256.51 102.2,255 102.75,254.71 103.6,254.3 104.25,255.3 105,255.8 105.75,255.93 106.5,256.5 107.5,257.14 107.9,260.8 108.3,258.33 108.75,258.3 109.3,257.9 110.25,257.95 111,258.48 111.5,258.6 112.5,258.88 113.6,259.4 114,260.12 114.75,259.99 115.8,260.8 116.25,261.5 117,262.03 117.9,263.7 118.5,264.86 119.4,265.8 120,265.44 120.8,265.1 121.5,265.33 122.2,265.1 123,266.64 123.7,268 124.5,272.26 125.1,275.1 126,281.41 126.5,285.1 127.2,289.45 127.6,314.1 128,289.37 129,285 129.8,275 130.8,268 131.25,267.88 132,266.97 133,266.5 133.5,266.69 134.25,265.63 135.1,265.8 135.75,266.2 136.5,265.84 137.3,266.5 138,267.38 138.7,268 139.7,269.06 140.1,275.1 140.5,269.92 141,269.41 141.6,269 142.5,270.31 143.25,270.87 143.7,271.5 144.75,271.21 145.5,270.45 145.9,270.8 147,271.17 148.1,271.5 148.5,271.31 149.25,272.04 150.3,272.2 150.75,272 151.5,273.12 152.4,272.9 153,273.04 153.9,273.6 154.5,275.53 155.3,276.5 156,274.92 156.7,274.4 157.5,274.74 158.25,274.01 158.9,275.1 159.75,275.67 160.5,275.6 161,275.8 162,276.71 162.75,276.23 163.2,276.5 164.25,277.56 165.3,277.2 165.75,276.9 166.5,278.05 167.5,277.9 168,277.65 168.75,278.44 169.6,278.7 170.25,278.69 171,279.32 171.8,279.4 172.5,280.03 173.2,280.8 173.8,281.55 174.2,285.8 174.6,281.55 175.4,280.8 176.25,281.46 176.8,280.8 177.75,280.67 178.2,281.5 179.25,282.01 179.7,282.2 180.3,282.95 180.7,287.2 181.1,284.22 181.8,283.7 182.25,283.18 183.2,282.2 183.75,282.95 184.5,283.44 185.4,284.4 186,284.47 186.75,284.08 187.5,284.4 188.25,284.68 189,284.72 189.7,285.1 190.5,285.73 191.25,285.57 191.8,285.8 192.75,286.44 193.5,286.76 194,287.2 195,289.03 195.4,299.4 195.8,292.09 196.5,291.47 196.9,290.8 198.3,288 198.75,287.97 199.5,288.2 200.4,288.2 201,288.27 201.75,289.16 202.3,289 203.25,289.42 204.3,290.1 204.75,290.41 205.5,289.68 206.4,291.5 207,292 207.75,291.63 208.6,292.2 209.25,292.25 210,291.84 210.7,292.2 211.5,292.6 212.25,292.17 212.9,292.2 213.75,292.64 214.3,292.9 215.25,293.93 215.8,295.1 216.5,296.6 216.9,305.1 217.3,297.19 217.9,295.8 218.6,295.1 219,295.84 219.6,296.06 220,301.5 220.4,296.66 221.5,295.8 222,296.22 222.9,297.2 223.5,297.21 224.25,296.47 225.1,297.2 225.75,297.62 226.5,297.31 227.2,297.9 228,298.59 228.7,298.7 229.4,299.66 229.8,305.1 230.2,300.85 231,300.34 231.5,300.1 232.5,301.84 233.3,303.22 233.7,320.9 234.1,308.06 235.1,305.8 235.5,303.93 236.5,300.1 237,300.42 238,300.8 238.5,300.35 239.4,301.5 240,302.86 240.4,303.64 240.8,315.8 241.2,305.51 242.3,303.7 243,303.26 243.7,303 244.7,304.39 245.1,312.3 245.5,306.18 246,306.1 246.6,305.1 247.5,304.3 248.25,304.35 248.7,303.7 250,305.2 250.4,313.7 250.8,307.15 251.6,306 252,306.06 253,306.3 253.5,307.67 254.2,308.6 255,310.57 255.4,312 256.8,314 257.2,325.3 257.6,313.14 258,312.22 258.4,311 258.75,309.87 259.5,309.2 260.25,309.35 261.3,309.2 261.75,310.09 262.5,311.6 263.3,313.66 263.7,325.3 264.1,314.16 264.9,312.2 265.5,313.27 266.1,314 267.3,315.8 267.75,314.43 268.5,314 269.25,315.77 269.7,315.8 270.75,318.83 271.5,321.8 272.25,322.06 272.7,321.8 273.9,325.3 274.6,329.73 275,354.8 275.4,329.73 276,327.39 276.8,325.3 277.5,323.06 278,321.2 279,319.72 279.8,319.4 280.5,318.87 281,318.2 281.8,318.74 282.2,321.8 282.6,316.7 283.5,315.73 284,315.8 285.2,315.2 285.75,315.87 286.5,315.63 287,316.4 288,317.13 288.4,317.3 288.8,322.4 289.2,317.81 290,317 291,316.21 291.8,317 292.5,317.37 293.25,317.45 293.6,317.6 294,318.48 294.75,317.44 295.3,317.6 296.25,317.86 297.1,318 297.75,317.98 298.5,318.3 298.9,318.2 299.25,318.21 300,319.08 300.7,318.8 301.8,319" class="sp"/>
<polyline points="333.3,44.45 334.5,47.42 335.3,45.3 335.7,44.82 336.8,44.98 337.8,46.04 338.8,47.62 339.3,49.41 339.8,50.25 340.4,52.55 340.8,65.55 341.2,54.79 341.8,52.89 342.8,47.62 343.8,45.51 344.4,46.38 344.8,51.31 345.2,46.38 345.8,45.51 346.5,43.95 347.3,43.93 347.7,45.99 348.3,44.98 348.9,45.5 349.3,46.04 350.3,45.51 351.3,47.09 352.3,48.15 353.3,49.2 353.7,50.72 354.3,51.84 354.9,47.82 355.3,50.25 355.9,50.81 356.3,53.95 356.7,51.71 357.3,51.31 358.3,52.89 359.3,55.53 359.55,56.16 359.8,59.75 360.2,54.82 360.8,53.95 362.3,54.47 363.3,53.42 364.3,55.53 365.3,54.47 365.7,55.46 366.4,54.87 366.8,57.11 367.2,54.42 368.3,53.95 369.3,53.95 370.8,55.53 371.7,54.65 372.3,57.64 372.9,58.35 373.3,62.39 373.7,58.8 374.3,58.17 375.3,59.8 375.8,57.11 376.8,59.22 377.4,59.7 377.8,62.39 378.2,59.25 378.8,58.69 380.3,59.22 380.9,59.85 381.3,63.44 381.7,59.85 382.3,59.22 383.8,61.33 384.9,58.89 385.3,59.22 386.1,60.62 386.8,59.75 387.3,58.83 388.3,61.33 389.8,60.28 390.9,62.37 391.3,60.49 392.1,58.31 393.3,62.91 394.8,63.97 395.8,62.91 396.8,64.5 397.8,66.08 398.05,66.87 398.3,71.35 398.7,65.97 399.3,65.02 400.3,64.5 401.3,65.02 401.7,67.34 402.3,66.08 402.9,65.55 403.8,66.61 405.3,67.13 406.5,68.94 407.3,67.66 407.7,66.9 408.9,68.24 409.3,67.66 410.1,66.49 411.3,67.13 412.8,68.19 413.7,69.57 414.3,70.3 414.9,70.96 415.8,72.41 416.8,71.35 417.3,73.36 417.8,70.82 418.5,70.16 419.3,71.35 419.7,72.25 420.8,72.93 422.3,75.04 423.3,77.15 424.3,80.32 424.7,82.33 425.1,93.72 425.5,82.33 425.9,80.32 426.5,78.21 426.9,79.26 427.8,73.99 429.3,72.41 430.5,72.06 431.3,71.88 431.7,74.43 432.9,71.24 433.3,71.35 434.1,72.51 434.8,71.88 435.3,71.66 436.3,73.46 437.8,75.04 438.9,76.83 439.3,76.63 440.4,77.34 440.8,81.37 441.2,78.24 442.3,77.68 443.8,78.21 444.9,77.49 445.3,78.21 446.1,78.97 446.8,78.74 447.3,78.63 448.3,79.79 449.3,80.85 449.7,80.96 450.3,80.85 450.9,81.03 451.4,81.8 451.8,87.18 452.2,83.14 452.8,82.43 453.3,83.39 453.8,82.43 454.8,81.9 455.7,79.8 456.3,81.37 456.9,82.51 457.8,81.9 459.3,82.43 460.8,82.96 461.7,82.29 462.3,82.96 462.9,84.2 463.8,83.48 464.8,85.59 465.3,84.36 465.8,84.54 466.5,84.74 467.3,84.54 467.7,84.5 468.8,85.07 470.3,86.12 470.9,87.07 471.3,92.45 471.7,87.97 472.3,87.18 472.9,88.2 473.3,94.03 473.7,89.1 474.3,88.23 474.9,88.02 475.3,87.18 476.3,87.7 477.3,88.76 477.9,89.63 478.3,94.56 478.7,90.52 479.3,89.81 479.7,86.68 480.8,88.76 482.3,89.81 483.3,91.77 483.8,90.34 484.5,90.35 485.3,90.87 485.7,91.37 486.8,90.34 488.3,91.39 489.3,90.57 489.8,91.39 490.5,92.25 491.3,91.92 491.7,90.74 492.4,92.87 492.8,98.25 493.2,94.66 494.3,94.03 495.3,93.5 496.5,94.43 497.3,94.03 497.7,93.61 498.9,95.31 499.3,94.56 500.1,93.77 501.3,95.09 502.5,96.07 503.3,95.93 503.7,94.92 504.8,96.67 505.8,98.78 507.3,96.14 508.8,96.14 509.7,98.47 510.3,96.67 510.9,96.52 511.8,97.2 512.9,98.25 513.4,100.62 513.8,114.07 514.2,101.97 514.8,99.83 515.8,99.31 516.4,100.97 516.8,110.38 517.2,100.97 517.8,99.31 519.3,100.36 520.3,100.89 520.9,101.52 521.3,105.11 521.7,101.52 522.3,100.89 522.9,102.09 523.8,100.89 525.3,101.42 526.4,103.39 526.8,114.6 527.2,104.29 527.8,102.47 528.9,101.52 529.3,101.94 530.3,105.11 531.3,117.24 531.6,118.11 531.9,123.04 532.3,108.25 532.7,105.64 533.3,104.58 533.7,104.64 534.8,104.05 536.3,105.11 537.6,107.16 538,118.82 538.4,108.06 539,106.16 539.7,105.02 540.3,106.16 541.2,108.06 541.6,118.82 542,108.33 542.6,106.48 543.3,107.74 543.8,106.16 544.8,106.69 545.8,108.27 546.9,108.75 547.3,110.58 547.7,123.67 548.1,111.39 548.8,109.22 549.3,110.37 550.3,109.33 551.2,111.57 551.6,124.31 552,113.55 552.6,111.65 553.5,113.65 554.1,116.6 554.5,133.27 554.9,117.49 555.4,114.71 556.4,113.23 557.3,114.71 557.7,113.28 558.3,113.23 558.9,113.02 559.3,111.65 560.1,112.41 560.7,115.66 561.2,118.98 561.6,137.81 562,121.58 562.6,118.72 563.1,119.55 563.5,124.31 563.9,117.85 564.5,116.71 564.9,117.27 565.9,115.66 567.3,115.23 568.8,117.24 569.7,119.77 570.7,121.25 571.6,122.2 572.2,124.7 572.6,138.86 573,126.49 573.5,124.31 574.5,122.72 575.4,124.73 576.4,123.25 576.9,124.31 577.3,130.32 577.7,122.61 578.3,121.25 579.3,121.99 579.5,123.38 579.7,131.27 580.1,122.3 580.7,120.72 581.7,118.72 582.6,119.77 584,120.19 585,121.25 585.5,122.61 585.9,130.32 586.3,123.06 586.9,121.77 587.7,121.27 588.3,121.25 588.9,121.96 590.3,120.72 591.3,119.71 592.1,121.25 592.5,122.51 593.7,121.28 594.1,121.77 594.9,122 596,121.77 597.3,122.2 598.8,122.51" class="sp"/>
<polyline points="333.3,182.88 334.15,172.37 334.6,173.63 335,180.8 335.4,171.8 335.85,170.22 336.3,172.06 336.7,182.52 337.1,179.27 337.55,178.7 338.4,177.15 339.25,179.71 340.1,178.87 340.95,180.14 341.8,173.75 342.25,175.21 342.65,183.5 343.05,177.2 343.5,176.09 344.35,178.58 345.2,173.31 345.65,175.23 346.05,186.09 346.45,174.43 346.9,172.37 347.75,180.24 348.6,178.9 349.05,177.93 349.45,177.06 350.3,178.94 351.15,174.91 351.6,175.44 352,178.49 352.4,171.03 352.85,169.72 353.3,171.6 353.7,182.25 354.1,175.38 354.55,174.17 355,176.15 355.4,187.35 355.8,175.33 356.25,173.2 357.1,173.32 357.95,179.47 358.8,180.14 359.65,178.29 360.5,172.07 361.35,178 361.8,177.27 362.2,176.62 362.65,177.8 363.05,184.53 363.45,177.67 363.9,176.46 364.35,177.06 364.75,180.48 365.15,174.83 365.6,173.83 366.45,183.18 366.9,183.61 367.3,186.01 367.7,175.72 368.15,173.9 368.55,174.18 369,174.49 369.85,170.65 370.7,167.43 371.15,169.93 371.55,184.06 371.95,175.45 372.4,173.93 372.85,174.91 373.25,180.45 373.65,176.33 374.1,175.6 374.55,175.59 374.95,175.58 375.8,177.9 376.65,172.62 377.1,173.32 377.5,177.29 377.9,174.3 378.35,173.78 379.2,180.33 380.05,178.53 380.55,177.53 380.9,176.84 381.3,174.72 381.75,172.35 382.2,173.98 382.6,183.25 383,176.91 383.45,175.79 383.9,176.5 384.3,180.54 384.7,172.16 385.15,170.69 386,171.98 386.45,173.04 386.85,179.02 387.25,174.31 387.7,173.47 388.15,174.04 388.55,177.26 388.95,173.3 389.4,172.61 389.85,174.56 390.25,185.6 390.65,173.71 391.1,171.61 391.55,173.25 391.95,182.54 392.35,170.17 392.8,167.99 393.25,170.08 393.65,181.96 394.05,175.88 394.5,174.8 395.35,177.23 395.8,177.84 396.2,181.28 396.6,171.63 397.05,169.93 397.6,172.19 398,185 398.38,176.68 398.75,175.21 399.6,177.3 400.05,177.77 400.45,178.18 401.3,174.77 402.15,175.51 403,176.92 403.85,168.81 404.3,170.8 404.7,182.03 405.1,178.91 405.55,178.36 406.05,176.72 406.4,175.57 406.85,176.5 407.25,181.82 407.65,174.29 408.1,172.96 408.55,173.68 408.95,177.77 409.35,171.56 409.8,170.46 410.25,171.27 410.65,175.86 411.05,173.51 411.5,173.09 412.35,173.78 412.8,174.32 413.2,177.35 413.6,172.55 414.05,171.7 414.5,173.01 414.9,180.45 415.3,174.71 415.75,173.7 416.2,174.55 416.6,179.36 417,170.04 417.45,168.4 417.9,170.18 418.3,180.26 418.7,174.4 419.15,173.36 419.55,174.62 420,176.04 420.85,175.23 421.7,178.37 422.05,179.42 422.4,185.4 422.8,179.47 423.4,178.42 424.25,176.46 425.1,173.71 425.55,174.59 425.95,179.63 426.35,174.07 426.8,173.09 427.25,173.77 427.65,177.64 428.05,173.48 428.5,172.74 428.95,173.4 429.35,177.11 429.75,172.51 430.2,171.7 431.05,172.36 431.55,172.56 431.9,172.71 432.3,171.71 432.75,170.6 433.2,171.35 433.6,175.59 434,170.12 434.45,169.15 434.9,170.58 435.3,178.65 435.7,170.39 436.15,168.94 436.6,170.04 437,176.28 437.4,173.58 437.85,173.1 438.3,174.85 438.7,176.4 439.55,174.93 439.93,176.23 440.3,183.6 440.7,174.84 441.25,173.3 442.1,175.65 442.95,174.13 443.8,174.72 444.3,175.81 444.65,176.57 445.05,175.93 445.5,175.21 445.95,175.74 446.35,178.78 446.75,175.18 447.2,174.55 447.65,175.01 448.05,177.61 448.45,174.05 448.9,173.42 449.75,176.03 450.6,175.09 451.05,175.78 451.45,176.39 451.83,177.38 452.2,183 452.6,180.06 453.15,179.54 454,172.72 454.85,176.42 455.7,177.69 456.55,174.7 457.05,175.86 457.4,177.55 457.8,176.48 458.25,175.19 458.7,175.76 459.1,178.96 459.5,174.93 459.95,174.21 460,175.3 460.8,174.46 461.55,176.57 462.4,174.1 463.05,174.37 463.8,176.15 464.4,175.16 464.8,181.2 465.2,175.67 466.05,174.25 466.6,174.7 467.55,175.57 468.3,173.28 469,174.1 469.8,176.53 470.6,177.76 471,198.5 471.4,180.22 472.05,177.87 472.5,177 473.3,178.17 473.7,184.8 474.1,176.22 474.9,174.7 475.8,175.66 476.7,175.3 477.3,174.59 478.1,176.64 478.5,184.2 478.9,177.15 479.55,176.91 480.3,175.9 481.05,176.42 481.8,177.37 482.2,177.69 482.6,187.8 483,177.69 483.8,175.9 484.8,174.95 485.6,175.3 486.3,176.06 487,176.19 487.4,181.2 487.8,176.69 488.6,175.9 489.3,174.06 490.4,175.3 490.8,176.4 491.8,177.09 492.2,187.2 492.6,178.53 493.4,177 493.8,174.84 494.55,176.13 495.2,175.3 496.05,176.18 497,177.6 497.55,178.55 498.3,178.05 498.7,180.6 499.1,177.54 499.8,176.55 500.5,177 501.3,177.77 502.05,176.54 502.9,176.5 503.55,177.44 504.3,177.75 504.7,184.8 505.1,178.17 505.8,177.34 506.5,177 507.3,177.21 508.05,176.42 508.9,176.5 509.55,178.58 510.3,176.45 510.7,177.6 511.05,177.88 511.8,178.27 512.4,178.8 513.2,181.75 513.6,198.5 514,181.25 514.8,178.2 515.55,180.27 516.2,180.25 516.6,191.9 517,182.29 517.8,180.76 518.4,180.6 519.3,181.22 520.05,181 520.4,181.14 520.8,184.2 521.2,180.63 521.55,182.38 522,180 523.05,179.61 523.8,179.4 524.55,180.88 525,180.5 526,183.23 526.4,198.7 526.8,182.81 527.5,180 528.3,179.25 529.3,179.3 529.8,180.39 530.55,181.09 531.1,182.31 531.5,199.4 531.9,183.59 532.9,180.8 533.55,180.59 534.3,179.3 535.05,179.25 536,179.8 536.55,182.52 537.5,182.41 537.9,197.2 538.3,183.26 538.8,180.6 539.3,180.8 540.4,183.38 540.8,198 541.2,183.12 541.8,182.63 542.2,180.5 543.6,181.5 544.05,181.57 545,182.9 545.55,184.41 546.5,185.91 546.9,203 547.3,186.51 547.8,185.07 548.6,183.6 549.3,183.59 550,182.9 550.8,181.92 551.5,186.5 552.3,188.08 553,188.6 553.7,193.01 554.1,218 554.5,193.01 555.5,188.6 556.05,187.27 557,185 557.55,185.38 558.3,182.34 558.7,184.3 560.1,187.9 560.55,189.8 561.1,192.12 561.5,216 561.9,198.83 563,195.8 563.55,194.66 564.4,192.9 565.05,191.93 565.8,190.8 566.55,190.1 567.3,189.4 568.05,197.47 569,207.7 569.55,207.18 570.3,206.47 571,205.8 571.8,205 572.55,204.25 572.9,203.9 573.3,204.7 574.05,206.2 574.8,207.7 575.55,216.74 576.3,225.78 576.7,230.6 577.3,231.45 577.7,236.3 578.1,227.19 578.55,226.71 579.6,225.58 580.05,222.29 580.55,218.64 581.1,219.96 581.5,227.44 581.9,216.91 582.45,215.05 583,215.75 583.4,219.74 583.8,211.67 584.35,210.25 584.9,211.64 585.3,219.48 585.7,214.46 586.25,213.58 586.8,214.33 587.2,218.55 587.6,211.74 588.15,210.53 589.1,213.01 590.05,209.96 590.6,210.48 591,213.41 591.4,210.13 591.95,209.55 592.5,210.27 592.9,214.38 593.3,208.36 593.85,207.3 594.4,207.76 594.8,210.35 595.2,207.1 595.8,206.53 596.8,207.36 597.3,202.59 597.75,198.3 598.7,204.8" class="sp"/>
<polyline points="333.3,221 334.3,224.02 334.8,222 335.3,219.87 336.6,222.6 337.3,224.7 337.7,223.8 338.3,219.51 338.9,224.4 339.3,224.29 340.1,223.2 340.4,225.27 340.7,237 341.1,226.8 341.9,225 342.3,218.72 343.1,219.7 344.3,223.8 345.5,225 346.3,225.6 346.7,222.6 347.3,221.83 348.5,221.5 349.3,225.35 349.7,223.2 350.3,221.34 350.9,221.5 351.3,221.9 352.1,220.3 353.2,222.6 354.4,223.8 355.2,224.97 355.6,231.6 356,225.48 356.8,224.4 357.3,225.08 358,227.4 359.2,225.6 360.4,228 361.6,225.6 362.4,226.41 362.8,231 363.2,226.41 364,225.6 365.2,227.4 366.4,224.4 367.1,225.3 367.5,230.4 367.9,225.81 368.3,226.88 368.7,225 369.3,225.51 370.5,227.4 371.3,230.38 371.9,228.21 372.3,232.8 372.7,229.23 373.5,228.6 374.3,229.49 374.7,231 375.3,231.59 376.5,228.6 377.3,229.28 378.3,230.4 379.5,227.4 380.3,228.3 380.7,233.4 381.1,229.32 381.8,228.6 382.3,229.17 383,228 384.3,222.75 384.8,226.8 385.3,226.58 386.6,225.6 387.3,225.13 388.4,227.4 389.3,228.02 390.2,228 391.3,227.69 392,229.2 393.3,229.54 393.8,228.6 394.3,227.87 395.6,228.5 396.3,233.04 397,229.47 397.4,235 397.8,231 398.6,230.3 399.3,229.79 400.4,229.1 401.3,229.61 402.2,229.7 403.3,229.67 403.9,230.9 404.3,233.59 405.3,231.56 405.7,232.1 406.3,233.22 407.5,233.2 408.3,229.47 409.3,231.5 410.3,232.58 411.1,230.3 412.3,230.66 412.9,231.5 413.3,232.43 414.3,229.23 414.7,232.1 415.3,233.41 416.5,232.6 417.3,229.45 418.2,232.1 419.3,233.2 420,232.6 421.3,233.71 421.8,235 422.3,236.46 423,237.4 423.8,238.57 424.2,245.2 424.6,237.55 425.4,236.2 426.6,234.4 427.3,234.55 427.8,235.6 428.3,235.37 429,234.4 430.3,233.62 430.8,233.8 431.3,234.14 432.5,233.2 433.3,231.39 434.3,232.6 435.3,235.07 436.1,233.8 437.3,234.16 437.9,234.4 438.3,235.48 439.3,235.39 439.7,236.8 440.1,237.43 440.5,241 440.9,237.94 441.5,237.4 442.3,237.17 442.7,236.2 443.3,234.75 444.5,235.6 445.3,236.69 446.3,236.8 447.3,235.89 448,237.4 449.2,240.4 450.4,238.6 451.6,238 452.4,238.99 452.8,244.6 453.2,239.5 454,238.6 455.3,238.28 455.8,238 456.3,237.77 457.6,238.6 458.3,239.2 459.4,239.5 460.3,239.76 461.3,240.14 461.8,240.3 462.3,237.98 463.6,240.3 464.3,244.09 464.8,243.2 465.3,242.32 466.6,240.9 467.3,242.13 468.3,240.17 468.9,241.5 469.3,242.23 470.6,243.01 471,251.6 471.4,243.95 472.5,242.6 473.3,243.5 473.7,248.6 474.1,243.5 474.9,242.6 475.3,242.72 476.3,244.01 476.7,243.2 477.3,241.51 478.1,244.01 478.5,248.6 478.9,243.5 479.3,243.74 480.3,242.6 481.6,243.59 482,249.2 482.4,244.61 483.2,243.8 484.3,242.74 485,244.4 486.3,248.07 486.8,246.8 487.3,245.38 488.6,245 489.3,245.7 490.4,245.6 491.3,245.48 491.8,246.5 492.2,251.6 492.6,246.5 493.3,247.59 494,245.6 495.3,245.36 495.8,245.6 496.3,246.94 497.5,246.2 498.3,245.53 499.3,246.8 500.3,247.32 501.1,246.8 502.3,245.89 502.9,248 503.3,250.3 504.3,248.63 504.7,252.2 505.1,248.63 506.5,248 507.3,247.5 508.3,248 509.3,249.02 510.1,248.6 511.3,248.58 511.8,249.2 512.3,251.24 513,250.4 513.5,252.55 513.9,264.7 514.3,253.56 515.1,251.6 516.2,252.84 516.6,259.9 517,253.35 518.4,252.2 519.3,251.21 520.2,252.8 521,253.25 521.4,255.8 521.8,253.25 522.3,254.18 523.2,252.8 524.3,251.32 525,253.2 526.2,254.86 526.6,264.3 527,255.8 528.2,254.3 529.3,255.23 530,254.6 531,256.38 531.4,266.5 531.8,256.13 532.3,255.08 532.9,254.3 533.3,254.66 534.3,254.25 535,255 536.3,255.92 537.2,255.8 537.8,257.3 538.2,265.8 538.6,257.3 539.3,256.31 540,255.8 541.1,257.51 541.5,267.2 541.9,257.51 542.3,257.96 542.9,255.8 543.3,253.11 544.3,256.42 545,256.5 546.3,257.96 546.8,258.86 547.2,272.2 547.6,260.64 548.6,258.6 549.3,259.36 550,257.9 551.1,259.4 551.5,267.9 551.9,262.46 552.3,261.98 552.9,261.5 553.3,263.16 553.9,264.27 554.3,280 554.7,264.87 555.3,263.04 555.8,262.2 556.3,263.1 557.2,260.8 558.6,261.5 559.3,264.3 560.4,266.88 560.8,281.5 561.2,267.48 562.2,265 563.6,264.3 564.3,264.11 565,265.8 566.5,265 567.3,267.96 567.9,268.6 568.3,268.51 568.9,269.04 569.3,271.5 569.7,269.04 570.3,270.68 570.8,268.6 571.3,268.88 571.8,270.54 572.2,281.5 572.6,273 573.6,271.5 574.3,272.18 575,270.8 576.1,272.84 576.5,284.4 576.9,278.28 577.3,277.63 577.9,277.2 578.3,277.88 579,278.38 579.4,285.1 579.8,275.92 580.3,274.71 580.8,274.3 581.3,274.05 582.2,272.9 583.3,271.74 583.7,274.3 584.3,275.84 584.7,275.06 585.1,279.4 585.5,276.34 586.5,275.8 587.3,273.78 587.9,274.3 588.3,275.18 589.3,274.15 590.1,275 591.3,275.23 592.2,273.6 593.3,272.57 594.3,274.3 595.3,274.26 596.5,273.6 597.3,272.9 598.3,275.93 598.7,274.3" class="sp"/>
<polyline points="333.3,256.9 334.3,259.85 334.8,259.9 335.3,256.5 336.6,259.9 337.3,261.13 338.3,259.3 339.5,260.5 340.3,262.11 340.7,271.2 341.1,262.11 341.9,260.5 342.3,259.36 343.1,257.5 344.3,260.5 345.5,258.7 346.3,262.7 346.7,260.5 347.3,259.89 347.9,259.3 348.3,263.05 349.1,261.1 350.3,260.1 350.9,260.5 351.3,262.38 352.1,259.3 353.2,262.3 354.4,260.5 355,267.6 356.2,265.9 357.4,268.8 358.6,266.5 359.4,267.65 359.8,274.2 360.2,268.59 361,267.6 362.2,266.5 363.4,267.6 364.6,265.9 365.3,265.96 365.8,270 366.3,269.4 366.9,267.6 367.3,264.62 367.7,268.41 368.1,273 368.5,268.92 369.3,268.2 370.5,268.8 371.3,270.25 371.7,270.6 372.5,271.68 372.9,277.8 373.3,273.21 374.1,272.4 375.3,270.05 375.9,271.8 376.3,274.92 377,272.7 377.4,277.8 377.8,273.72 378.3,272.71 378.9,273 379.3,274.1 380.3,273.9 380.7,279 381.1,274.41 381.8,273.6 382.3,271.34 383.6,273.6 384.3,273.64 385.4,272.4 386.3,271.9 387.2,274.2 388.3,274.78 389,273.6 390.3,271.74 390.8,274.8 391.3,275.93 392.6,275.4 393.3,274.29 394.4,276.2 395.3,279.54 396.2,277.2 397,278.28 397.4,284.4 397.8,279.9 398.6,279.1 399.3,276.98 400.4,278.5 401.3,279.2 402.2,279.1 403.3,278.36 403.9,279.7 404.3,280.71 405.3,280.69 405.7,281.5 406.3,281.9 407.5,280.9 408.3,280.22 409.3,280.9 410.3,282.3 411.1,280.9 412.3,281.99 412.9,283.2 413.3,284.22 414.3,283.54 414.7,285.6 415.3,287.03 416.5,285 417.3,283.03 418.2,285 419.3,286.48 420,285.6 421.3,285.75 421.8,286.8 422.3,288.85 423.6,290.4 424.4,292 424.8,301.1 425.2,292.51 426,291 427.2,289.2 428.4,287.4 429.3,285.76 430.2,286.8 431.3,287.1 432,285.6 433.3,283.23 433.7,286.2 434.3,287.43 435.5,286.8 436.3,287.41 437.3,288.6 438.5,289.8 439.3,291.17 439.9,290.88 440.3,297 440.7,292.41 441.5,291.6 442.3,290.51 443.3,290.4 444.3,291.14 445.1,291 446.3,291.59 446.8,292.2 447.3,293.68 448.6,294 449.3,293.31 450.4,294.6 451.3,296.49 451.8,295.67 452.2,301.7 452.6,296.69 453.4,295.8 454.3,294.41 455.2,295.2 456.3,295.11 457,294.6 458.3,294.36 458.8,295.2 459.3,296.13 460.6,296.4 461.3,296.59 462.3,297 463.6,297.9 464.3,299.85 464.8,300.3 465.3,297.67 466.6,298.5 467.3,298.31 468.3,297.9 469.3,298.4 470.1,299.1 470.9,299.81 471.3,303.8 471.7,301.33 472.5,300.9 473.3,301.88 473.7,307.4 474.1,302.38 474.9,301.5 475.3,301.26 476.3,300.4 476.7,300.3 477.3,301.77 478.1,301.45 478.5,308 478.9,302.9 479.3,300.76 479.7,302 480.3,302.39 481.5,301.5 482.3,301.49 483.2,302.6 484.3,303.97 485,303.8 486.3,302.74 486.8,303.2 487.3,306.04 488.6,303.8 489.3,301.3 490.4,304.4 491.3,305.93 491.8,305.39 492.2,311 492.6,305.9 493.3,305.14 494,305 495.3,305.45 495.8,305.6 496.3,304.87 497.5,306.2 498.3,307.14 499.3,306.8 500.3,307.05 501.1,307.4 502.3,309.68 502.9,308 503.3,308.42 504.3,311.24 504.7,311 505.3,308.54 506.5,308.6 507.3,309.94 508.3,308 509.3,308.11 510.1,309.2 511.3,310.36 511.8,310.4 512.3,310.36 513,312.8 513.5,315.04 513.9,327.7 514.3,315.54 515.1,313.4 516.2,314.82 516.6,322.9 517,314.82 518.4,313.4 519.3,315.08 520.2,314 521,314.45 521.4,317 521.8,314.45 522.3,314.03 523.2,314 524.3,314.69 525,314.6 526.2,316.56 526.6,327.7 527,318.01 527.8,316.3 528.3,314.89 529,313.4 530.1,315.5 531.2,318.22 531.6,333.6 532,319.4 532.5,316.9 533.3,315.72 533.7,315.1 534.3,315.29 534.9,316.9 535.4,317.98 535.8,324.1 536.2,318.49 536.7,317.5 537.5,319.48 537.9,330.7 538.3,319.48 539.1,317.5 540.3,318.1 541.1,320.17 541.5,331.9 541.9,321.19 542.3,321.82 542.7,319.3 543.3,319.48 543.9,319.9 544.3,320.39 545.1,321.1 546.3,322.57 546.8,323.43 547.2,336.6 547.6,324.44 548.6,322.3 549.3,323.16 549.8,322.3 550.3,322.21 551,324.1 551.6,326.06 552,337.2 552.4,328.11 553.2,326.5 554,328.82 554.4,342 554.8,329.84 555.6,327.7 556.3,327.25 557,325.9 558.2,324.1 559.4,325.3 560.3,326.8 561.1,330.52 561.5,351.6 561.9,333.58 562.3,331.46 562.7,330.4 563.3,331.77 563.9,329.2 564.3,328.38 565.1,328.6 566.3,326.8 567.3,326.04 567.7,325.7 568.6,328 569.3,328.13 569.8,329.8 570.3,331.45 571,331.6 572.1,334.24 572.5,349.2 572.9,336.79 573.3,335.14 574,334.6 575.2,337.6 575.5,338.23 575.8,341.8 576.2,335.68 577,334.6 578.2,335.8 579,336.79 579.4,342.4 579.8,335.26 580.6,334 581.3,332.71 581.8,331.6 582.3,331.09 583,332.8 584.3,333.75 584.7,333.4 585.5,334.66 585.9,341.8 586.3,335.17 587.1,334 588.3,333.93 588.9,334 589.3,334.69 590.3,333.93 590.7,334.6 591.3,335.07 592.5,335.2 593.3,334.45 594.3,335.2 595.3,336.82 596.1,335.8 597.3,333.39 597.9,335.2 598.3,336.08 599,335.5" class="sp"/>
<line x1="48.5" y1="23.2" x2="48.5" y2="28.1" class="an"/>
<line x1="43.4" y1="31.3" x2="74.6" y2="31.3" class="an"/>
<line x1="43.4" y1="31.3" x2="43.4" y2="36.1" class="an"/>
<line x1="52.8" y1="31.3" x2="52.8" y2="36.1" class="an"/>
<line x1="59.2" y1="31.3" x2="59.2" y2="36.1" class="an"/>
<line x1="60" y1="31.3" x2="60" y2="36.1" class="an"/>
<line x1="65.5" y1="31.3" x2="65.5" y2="36.1" class="an"/>
<line x1="70" y1="31.3" x2="70" y2="36.1" class="an"/>
<line x1="74.6" y1="31.3" x2="74.6" y2="36.1" class="an"/>
<line x1="58.5" y1="39.1" x2="86.6" y2="39.1" class="an"/>
<line x1="58.5" y1="39.1" x2="58.5" y2="43.6" class="an"/>
<line x1="61.3" y1="39.1" x2="61.3" y2="43.6" class="an"/>
<line x1="75.8" y1="39.1" x2="75.8" y2="43.6" class="an"/>
<line x1="78" y1="39.1" x2="78" y2="43.6" class="an"/>
<line x1="80.2" y1="39.1" x2="80.2" y2="43.6" class="an"/>
<line x1="86.6" y1="39.1" x2="86.6" y2="43.6" class="an"/>
<line x1="91.3" y1="47.5" x2="101.5" y2="47.5" class="an"/>
<line x1="91.3" y1="47.5" x2="91.3" y2="52" class="an"/>
<line x1="96.1" y1="47.5" x2="96.1" y2="52" class="an"/>
<line x1="98.2" y1="47.5" x2="98.2" y2="52" class="an"/>
<line x1="101.5" y1="47.5" x2="101.5" y2="52" class="an"/>
<line x1="47.6" y1="56.8" x2="47.6" y2="61.6" class="an"/>
<line x1="53.6" y1="65.4" x2="62.8" y2="65.4" class="an"/>
<line x1="53.6" y1="61.1" x2="53.6" y2="65.4" class="an"/>
<line x1="56" y1="61.1" x2="56" y2="65.4" class="an"/>
<line x1="58.5" y1="61.1" x2="58.5" y2="65.4" class="an"/>
<line x1="62.8" y1="61.1" x2="62.8" y2="65.4" class="an"/>
<line x1="67.8" y1="58.4" x2="67.8" y2="63.2" class="an"/>
<line x1="83.2" y1="62.7" x2="83.2" y2="68.1" class="an"/>
<line x1="84" y1="62.7" x2="84" y2="68.1" class="an"/>
<line x1="101.3" y1="73" x2="101.3" y2="78.1" class="an"/>
<line x1="125.5" y1="62" x2="125.5" y2="66.3" class="an"/>
<line x1="139.4" y1="62" x2="139.4" y2="66.5" class="an"/>
<line x1="140.2" y1="62" x2="140.2" y2="66.5" class="an"/>
<line x1="143.4" y1="63.5" x2="155.6" y2="63.5" class="an"/>
<line x1="143.4" y1="63.5" x2="143.4" y2="68.3" class="an"/>
<line x1="155.6" y1="63.5" x2="155.6" y2="68.3" class="an"/>
<line x1="130.2" y1="79.1" x2="130.2" y2="84" class="an"/>
<line x1="167.2" y1="69.9" x2="167.2" y2="74.7" class="an"/>
<line x1="182.2" y1="57.5" x2="182.2" y2="62.4" class="an"/>
<line x1="182.2" y1="75.6" x2="182.2" y2="80.4" class="an"/>
<line x1="195.1" y1="77.9" x2="195.1" y2="83.1" class="an"/>
<line x1="195.9" y1="77.9" x2="195.9" y2="83.1" class="an"/>
<line x1="151.6" y1="83.8" x2="151.6" y2="87.9" class="an"/>
<line x1="173.6" y1="93.4" x2="173.6" y2="98" class="an"/>
<line x1="174.7" y1="93.4" x2="174.7" y2="98" class="an"/>
<line x1="176.5" y1="97.9" x2="190.3" y2="97.9" class="an"/>
<line x1="176.5" y1="93.4" x2="176.5" y2="97.9" class="an"/>
<line x1="185.5" y1="93.4" x2="185.5" y2="97.9" class="an"/>
<line x1="190.3" y1="93.4" x2="190.3" y2="97.9" class="an"/>
<line x1="176.5" y1="109.3" x2="176.5" y2="113.6" class="an"/>
<line x1="194.8" y1="102.2" x2="208.4" y2="102.2" class="an"/>
<line x1="194.8" y1="97.2" x2="194.8" y2="102.2" class="an"/>
<line x1="197.4" y1="97.2" x2="197.4" y2="102.2" class="an"/>
<line x1="208.4" y1="97.2" x2="208.4" y2="102.2" class="an"/>
<line x1="216.3" y1="83.6" x2="229.6" y2="83.6" class="an"/>
<line x1="216.3" y1="83.6" x2="216.3" y2="88.4" class="an"/>
<line x1="220.3" y1="83.6" x2="220.3" y2="88.4" class="an"/>
<line x1="224" y1="83.6" x2="224" y2="88.4" class="an"/>
<line x1="229.6" y1="83.6" x2="229.6" y2="88.4" class="an"/>
<line x1="233.1" y1="87.9" x2="241.1" y2="87.9" class="an"/>
<line x1="233.1" y1="87.9" x2="233.1" y2="92.7" class="an"/>
<line x1="235" y1="87.9" x2="235" y2="92.7" class="an"/>
<line x1="237.5" y1="87.9" x2="237.5" y2="92.7" class="an"/>
<line x1="241.1" y1="87.9" x2="241.1" y2="92.7" class="an"/>
<line x1="244.6" y1="93.6" x2="255.7" y2="93.6" class="an"/>
<line x1="244.6" y1="93.6" x2="244.6" y2="98.4" class="an"/>
<line x1="249.2" y1="93.6" x2="249.2" y2="98.4" class="an"/>
<line x1="255.7" y1="93.6" x2="255.7" y2="98.4" class="an"/>
<line x1="254.3" y1="72.3" x2="254.3" y2="77.1" class="an"/>
<line x1="271.8" y1="71.7" x2="271.8" y2="101.5" class="an"/>
<line x1="282.4" y1="83.6" x2="282.4" y2="89" class="an"/>
<line x1="288.6" y1="83.6" x2="288.6" y2="89" class="an"/>
<line x1="256.3" y1="97.4" x2="267.1" y2="97.4" class="an"/>
<line x1="256.3" y1="97.4" x2="256.3" y2="102" class="an"/>
<line x1="258.8" y1="97.4" x2="258.8" y2="102" class="an"/>
<line x1="262.8" y1="97.4" x2="262.8" y2="102" class="an"/>
<line x1="267.1" y1="97.4" x2="267.1" y2="102" class="an"/>
<line x1="278.6" y1="103.5" x2="278.6" y2="108.8" class="an"/>
<line x1="279.9" y1="103.5" x2="279.9" y2="108.8" class="an"/>
<line x1="288.4" y1="103.5" x2="288.4" y2="108.8" class="an"/>
<line x1="234.2" y1="124.1" x2="250.3" y2="124.1" class="an"/>
<line x1="234.2" y1="119.3" x2="234.2" y2="124.1" class="an"/>
<line x1="240.5" y1="119.3" x2="240.5" y2="124.1" class="an"/>
<line x1="244.7" y1="119.3" x2="244.7" y2="124.1" class="an"/>
<line x1="250.3" y1="119.3" x2="250.3" y2="124.1" class="an"/>
<line x1="260.4" y1="138.3" x2="268.7" y2="138.3" class="an"/>
<line x1="260.4" y1="133.1" x2="260.4" y2="138.3" class="an"/>
<line x1="263.5" y1="133.1" x2="263.5" y2="138.3" class="an"/>
<line x1="266.5" y1="133.1" x2="266.5" y2="138.3" class="an"/>
<line x1="268.7" y1="133.1" x2="268.7" y2="138.3" class="an"/>
<line x1="282.5" y1="132.4" x2="289.1" y2="132.4" class="an"/>
<line x1="282.5" y1="127.8" x2="282.5" y2="132.4" class="an"/>
<line x1="289.1" y1="127.8" x2="289.1" y2="132.4" class="an"/>
<text transform="translate(44.3,18.4) scale(1,1.16)" font-size="8.0">Cr</text>
<text transform="translate(56.3,25.9) scale(1,1.16)" font-size="8.0">Ti</text>
<text transform="translate(78,36.1) scale(1,1.16)" font-size="8.0">Fe</text>
<text transform="translate(91.3,42.4) scale(1,1.16)" font-size="8.0">Fe</text>
<text transform="translate(42.9,73.2) scale(1,1.16)" font-size="8.0">Fe</text>
<text transform="translate(54.5,76.7) scale(1,1.16)" font-size="8.0">C</text>
<text transform="translate(64.2,74.5) scale(1,1.16)" font-size="8.0">Si</text>
<text transform="translate(81,78.8) scale(1,1.16)" font-size="8.0">Ti</text>
<text transform="translate(92.6,88.8) scale(1,1.16)" font-size="8.0">Ca II</text>
<text transform="translate(117.7,56.7) scale(1,1.16)" font-size="8.0">Sr II</text>
<text transform="translate(136.7,57) scale(1,1.16)" font-size="8.0">C</text>
<text transform="translate(144.7,58.8) scale(1,1.16)" font-size="8.0">Fe</text>
<text transform="translate(131.3,95.1) scale(1,1.16)" font-size="8.0">Fe</text>
<text transform="translate(163.6,64.5) scale(1,1.16)" font-size="8.0">Si</text>
<text transform="translate(178.4,53) scale(1,1.16)" font-size="8.0">Ni</text>
<text transform="translate(177.5,70.4) scale(1,1.16)" font-size="8.0">Si</text>
<text transform="translate(192.8,72.5) scale(1,1.16)" font-size="8.0">S</text>
<text transform="translate(147.7,98.9) scale(1,1.16)" font-size="8.0">Ni</text>
<text transform="translate(157.1,109.4) scale(1,1.16)" font-size="8.0">Sr II</text>
<text transform="translate(178.6,109.3) scale(1,1.16)" font-size="8.0">Fe</text>
<text transform="translate(171.8,125.2) scale(1,1.16)" font-size="8.0">Ca</text>
<text transform="translate(196.5,113.1) scale(1,1.16)" font-size="8.0">Fe</text>
<text transform="translate(219.4,78.4) scale(1,1.16)" font-size="8.0">Si</text>
<text transform="translate(233.7,82.7) scale(1,1.16)" font-size="8.0">C</text>
<text transform="translate(245.5,88.9) scale(1,1.16)" font-size="8.0">Fe</text>
<text transform="translate(248.6,66.6) scale(1,1.16)" font-size="8.0">Mg</text>
<text transform="translate(268.2,66.6) scale(1,1.16)" font-size="8.0">Si/Mg II</text>
<text transform="translate(278.2,78.7) scale(1,1.16)" font-size="8.0">Ni</text>
<text transform="translate(289.5,78.7) scale(1,1.16)" font-size="8.0">Cr</text>
<text transform="translate(257.7,92.6) scale(1,1.16)" font-size="8.0">Si</text>
<text transform="translate(273,98.8) scale(1,1.16)" font-size="8.0">Mg</text>
<text transform="translate(289.2,99.2) scale(1,1.16)" font-size="8.0">Fe</text>
<text transform="translate(238.5,135) scale(1,1.16)" font-size="8.0">Si</text>
<text transform="translate(260.3,149.3) scale(1,1.16)" font-size="8.0">Fe</text>
<text transform="translate(282.1,143.4) scale(1,1.16)" font-size="8.0">Si</text>
<line x1="345.8" y1="24.62" x2="345.8" y2="29.79" class="an"/>
<line x1="340.7" y1="33.17" x2="371.9" y2="33.17" class="an"/>
<line x1="340.7" y1="33.17" x2="340.7" y2="38.23" class="an"/>
<line x1="350.1" y1="33.17" x2="350.1" y2="38.23" class="an"/>
<line x1="356.5" y1="33.17" x2="356.5" y2="38.23" class="an"/>
<line x1="357.3" y1="33.17" x2="357.3" y2="38.23" class="an"/>
<line x1="362.8" y1="33.17" x2="362.8" y2="38.23" class="an"/>
<line x1="367.3" y1="33.17" x2="367.3" y2="38.23" class="an"/>
<line x1="371.9" y1="33.17" x2="371.9" y2="38.23" class="an"/>
<line x1="355.8" y1="41.39" x2="383.9" y2="41.39" class="an"/>
<line x1="355.8" y1="41.39" x2="355.8" y2="46.14" class="an"/>
<line x1="358.6" y1="41.39" x2="358.6" y2="46.14" class="an"/>
<line x1="373.1" y1="41.39" x2="373.1" y2="46.14" class="an"/>
<line x1="375.3" y1="41.39" x2="375.3" y2="46.14" class="an"/>
<line x1="377.5" y1="41.39" x2="377.5" y2="46.14" class="an"/>
<line x1="383.9" y1="41.39" x2="383.9" y2="46.14" class="an"/>
<line x1="388.6" y1="50.25" x2="398.8" y2="50.25" class="an"/>
<line x1="388.6" y1="50.25" x2="388.6" y2="55" class="an"/>
<line x1="393.4" y1="50.25" x2="393.4" y2="55" class="an"/>
<line x1="395.5" y1="50.25" x2="395.5" y2="55" class="an"/>
<line x1="398.8" y1="50.25" x2="398.8" y2="55" class="an"/>
<line x1="344.9" y1="60.07" x2="344.9" y2="65.13" class="an"/>
<line x1="350.9" y1="69.14" x2="360.1" y2="69.14" class="an"/>
<line x1="350.9" y1="64.6" x2="350.9" y2="69.14" class="an"/>
<line x1="353.3" y1="64.6" x2="353.3" y2="69.14" class="an"/>
<line x1="355.8" y1="64.6" x2="355.8" y2="69.14" class="an"/>
<line x1="360.1" y1="64.6" x2="360.1" y2="69.14" class="an"/>
<line x1="365.1" y1="61.75" x2="365.1" y2="66.82" class="an"/>
<line x1="380.5" y1="66.29" x2="380.5" y2="71.99" class="an"/>
<line x1="381.3" y1="66.29" x2="381.3" y2="71.99" class="an"/>
<line x1="398.6" y1="77.15" x2="398.6" y2="82.53" class="an"/>
<line x1="422.8" y1="65.55" x2="422.8" y2="70.09" class="an"/>
<line x1="436.7" y1="65.55" x2="436.7" y2="70.3" class="an"/>
<line x1="437.5" y1="65.55" x2="437.5" y2="70.3" class="an"/>
<line x1="440.7" y1="67.13" x2="452.9" y2="67.13" class="an"/>
<line x1="440.7" y1="67.13" x2="440.7" y2="72.2" class="an"/>
<line x1="452.9" y1="67.13" x2="452.9" y2="72.2" class="an"/>
<line x1="427.5" y1="83.59" x2="427.5" y2="88.76" class="an"/>
<line x1="464.5" y1="73.88" x2="464.5" y2="78.95" class="an"/>
<line x1="479.5" y1="60.8" x2="479.5" y2="65.97" class="an"/>
<line x1="479.5" y1="79.9" x2="479.5" y2="84.96" class="an"/>
<line x1="492.4" y1="82.32" x2="492.4" y2="87.81" class="an"/>
<line x1="493.2" y1="82.32" x2="493.2" y2="87.81" class="an"/>
<line x1="448.9" y1="88.55" x2="448.9" y2="92.87" class="an"/>
<line x1="470.9" y1="98.67" x2="470.9" y2="103.53" class="an"/>
<line x1="472" y1="98.67" x2="472" y2="103.53" class="an"/>
<line x1="473.8" y1="103.42" x2="487.6" y2="103.42" class="an"/>
<line x1="473.8" y1="98.67" x2="473.8" y2="103.42" class="an"/>
<line x1="482.8" y1="98.67" x2="482.8" y2="103.42" class="an"/>
<line x1="487.6" y1="98.67" x2="487.6" y2="103.42" class="an"/>
<line x1="473.8" y1="115.45" x2="473.8" y2="119.98" class="an"/>
<line x1="492.1" y1="107.96" x2="505.7" y2="107.96" class="an"/>
<line x1="492.1" y1="102.68" x2="492.1" y2="107.96" class="an"/>
<line x1="494.7" y1="102.68" x2="494.7" y2="107.96" class="an"/>
<line x1="505.7" y1="102.68" x2="505.7" y2="107.96" class="an"/>
<line x1="513.6" y1="88.34" x2="526.9" y2="88.34" class="an"/>
<line x1="513.6" y1="88.34" x2="513.6" y2="93.4" class="an"/>
<line x1="517.6" y1="88.34" x2="517.6" y2="93.4" class="an"/>
<line x1="521.3" y1="88.34" x2="521.3" y2="93.4" class="an"/>
<line x1="526.9" y1="88.34" x2="526.9" y2="93.4" class="an"/>
<line x1="530.4" y1="92.87" x2="538.4" y2="92.87" class="an"/>
<line x1="530.4" y1="92.87" x2="530.4" y2="97.93" class="an"/>
<line x1="532.3" y1="92.87" x2="532.3" y2="97.93" class="an"/>
<line x1="534.8" y1="92.87" x2="534.8" y2="97.93" class="an"/>
<line x1="538.4" y1="92.87" x2="538.4" y2="97.93" class="an"/>
<line x1="541.9" y1="98.88" x2="553" y2="98.88" class="an"/>
<line x1="541.9" y1="98.88" x2="541.9" y2="103.95" class="an"/>
<line x1="546.5" y1="98.88" x2="546.5" y2="103.95" class="an"/>
<line x1="553" y1="98.88" x2="553" y2="103.95" class="an"/>
<line x1="551.6" y1="76.42" x2="551.6" y2="81.48" class="an"/>
<line x1="569.1" y1="75.78" x2="569.1" y2="107.22" class="an"/>
<line x1="579.7" y1="88.34" x2="579.7" y2="94.03" class="an"/>
<line x1="585.9" y1="88.34" x2="585.9" y2="94.03" class="an"/>
<line x1="553.6" y1="102.89" x2="564.4" y2="102.89" class="an"/>
<line x1="553.6" y1="102.89" x2="553.6" y2="107.75" class="an"/>
<line x1="556.1" y1="102.89" x2="556.1" y2="107.75" class="an"/>
<line x1="560.1" y1="102.89" x2="560.1" y2="107.75" class="an"/>
<line x1="564.4" y1="102.89" x2="564.4" y2="107.75" class="an"/>
<line x1="575.9" y1="109.33" x2="575.9" y2="114.92" class="an"/>
<line x1="577.2" y1="109.33" x2="577.2" y2="114.92" class="an"/>
<line x1="585.7" y1="109.33" x2="585.7" y2="114.92" class="an"/>
<line x1="531.5" y1="131.06" x2="547.6" y2="131.06" class="an"/>
<line x1="531.5" y1="125.99" x2="531.5" y2="131.06" class="an"/>
<line x1="537.8" y1="125.99" x2="537.8" y2="131.06" class="an"/>
<line x1="542" y1="125.99" x2="542" y2="131.06" class="an"/>
<line x1="547.6" y1="125.99" x2="547.6" y2="131.06" class="an"/>
<line x1="557.7" y1="146.04" x2="566" y2="146.04" class="an"/>
<line x1="557.7" y1="140.55" x2="557.7" y2="146.04" class="an"/>
<line x1="560.8" y1="140.55" x2="560.8" y2="146.04" class="an"/>
<line x1="563.8" y1="140.55" x2="563.8" y2="146.04" class="an"/>
<line x1="566" y1="140.55" x2="566" y2="146.04" class="an"/>
<line x1="579.8" y1="139.81" x2="586.4" y2="139.81" class="an"/>
<line x1="579.8" y1="134.96" x2="579.8" y2="139.81" class="an"/>
<line x1="586.4" y1="134.96" x2="586.4" y2="139.81" class="an"/>
<text transform="translate(341.6,20.36) scale(1,1.16)" font-size="8.0">Cr</text>
<text transform="translate(353.6,28.27) scale(1,1.16)" font-size="8.0">Ti</text>
<text transform="translate(375.3,39.03) scale(1,1.16)" font-size="8.0">Fe</text>
<text transform="translate(388.6,45.67) scale(1,1.16)" font-size="8.0">Fe</text>
<text transform="translate(340.2,78.16) scale(1,1.16)" font-size="8.0">Fe</text>
<text transform="translate(351.8,81.86) scale(1,1.16)" font-size="8.0">C</text>
<text transform="translate(361.5,79.54) scale(1,1.16)" font-size="8.0">Si</text>
<text transform="translate(378.3,84.07) scale(1,1.16)" font-size="8.0">Ti</text>
<text transform="translate(389.9,94.62) scale(1,1.16)" font-size="8.0">Ca II</text>
<text transform="translate(415,60.76) scale(1,1.16)" font-size="8.0">Sr II</text>
<text transform="translate(434,61.08) scale(1,1.16)" font-size="8.0">C</text>
<text transform="translate(442,62.97) scale(1,1.16)" font-size="8.0">Fe</text>
<text transform="translate(428.6,101.27) scale(1,1.16)" font-size="8.0">Fe</text>
<text transform="translate(460.9,68.99) scale(1,1.16)" font-size="8.0">Si</text>
<text transform="translate(475.7,56.86) scale(1,1.16)" font-size="8.0">Ni</text>
<text transform="translate(474.8,75.21) scale(1,1.16)" font-size="8.0">Si</text>
<text transform="translate(490.1,77.43) scale(1,1.16)" font-size="8.0">S</text>
<text transform="translate(445,105.28) scale(1,1.16)" font-size="8.0">Ni</text>
<text transform="translate(454.4,116.35) scale(1,1.16)" font-size="8.0">Sr II</text>
<text transform="translate(475.9,116.25) scale(1,1.16)" font-size="8.0">Fe</text>
<text transform="translate(469.1,133.02) scale(1,1.16)" font-size="8.0">Ca</text>
<text transform="translate(493.8,120.25) scale(1,1.16)" font-size="8.0">Fe</text>
<text transform="translate(516.7,83.65) scale(1,1.16)" font-size="8.0">Si</text>
<text transform="translate(531,88.19) scale(1,1.16)" font-size="8.0">C</text>
<text transform="translate(542.8,94.73) scale(1,1.16)" font-size="8.0">Fe</text>
<text transform="translate(545.9,71.2) scale(1,1.16)" font-size="8.0">Mg</text>
<text transform="translate(565.5,71.2) scale(1,1.16)" font-size="8.0">Si/Mg II</text>
<text transform="translate(575.5,83.97) scale(1,1.16)" font-size="8.0">Ni</text>
<text transform="translate(586.8,83.97) scale(1,1.16)" font-size="8.0">Cr</text>
<text transform="translate(555,98.63) scale(1,1.16)" font-size="8.0">Si</text>
<text transform="translate(570.3,105.17) scale(1,1.16)" font-size="8.0">Mg</text>
<text transform="translate(586.5,105.59) scale(1,1.16)" font-size="8.0">Fe</text>
<text transform="translate(535.8,143.36) scale(1,1.16)" font-size="8.0">Si</text>
<text transform="translate(557.6,158.44) scale(1,1.16)" font-size="8.0">Fe</text>
<text transform="translate(579.4,152.22) scale(1,1.16)" font-size="8.0">Si</text>
<text transform="translate(274.9,45.4) scale(1,1.16)" font-size="8.0">G2</text>
<text transform="translate(289.6,45.4) scale(1,1.16)" font-size="8.0">V</text>
<text transform="translate(247.4,166) scale(1,1.16)" font-size="8.0">F5 Ib–G1 Ib</text>
<text transform="translate(274.9,243.8) scale(1,1.16)" font-size="8.0">F5 III</text>
<text transform="translate(276.7,305.6) scale(1,1.16)" font-size="8.0">F5</text>
<text transform="translate(289.6,305.6) scale(1,1.16)" font-size="8.0">V</text>
<line x1="43.2" y1="285.2" x2="43.2" y2="290.3" class="an"/>
<text transform="translate(44.3,301.5) scale(1,1.16)" font-size="8.0">Pa</text>
<text transform="translate(59.2,301.5) scale(1,1.16)" font-size="8.0">ε</text>
<line x1="127.5" y1="321.5" x2="127.5" y2="326.6" class="an"/>
<text transform="translate(118.7,337.8) scale(1,1.16)" font-size="8.0">Pa</text>
<text transform="translate(132.4,337.8) scale(1,1.16)" font-size="8.0">δ</text>
<line x1="275" y1="362" x2="275" y2="366.7" class="an"/>
<text transform="translate(266.5,377.9) scale(1,1.16)" font-size="8.0">Pa</text>
<text transform="translate(280.6,377.9) scale(1,1.16)" font-size="8.0">γ</text>
<text transform="translate(572.1,51.8) scale(1,1.16)" font-size="8.0">G2</text>
<text transform="translate(586.6,51.8) scale(1,1.16)" font-size="8.0">V</text>
<text transform="translate(561.7,167.6) scale(1,1.16)" font-size="8.0">CN</text>
<line x1="561.8" y1="170.5" x2="576.7" y2="170.5" class="an"/>
<line x1="561.8" y1="170.5" x2="561.8" y2="175.8" class="an"/>
<line x1="570.6" y1="170.5" x2="570.6" y2="175.8" class="an"/>
<line x1="576.7" y1="170.5" x2="576.7" y2="175.8" class="an"/>
<line x1="576.7" y1="170.5" x2="592.4" y2="170.5" class="an"/>
<text transform="translate(570.2,186.7) scale(1,1.16)" font-size="8.0">G6 Ib</text>
<text transform="translate(570.6,260.8) scale(1,1.16)" font-size="8.0">G6 III</text>
<text transform="translate(564.6,322.1) scale(1,1.16)" font-size="8.0">G6.5</text>
<text transform="translate(586.4,322.1) scale(1,1.16)" font-size="8.0">V</text>
<line x1="340.4" y1="279.1" x2="340.4" y2="284.3" class="an"/>
<text transform="translate(341.3,295.8) scale(1,1.16)" font-size="8.0">Pa</text>
<text transform="translate(356,295.8) scale(1,1.16)" font-size="8.0">ε</text>
<line x1="424.6" y1="309.4" x2="424.6" y2="314.4" class="an"/>
<text transform="translate(415.3,325.8) scale(1,1.16)" font-size="8.0">Pa</text>
<text transform="translate(429.4,325.8) scale(1,1.16)" font-size="8.0">δ</text>
<line x1="572.2" y1="358.6" x2="572.2" y2="363.6" class="an"/>
<text transform="translate(564,374.9) scale(1,1.16)" font-size="8.0">Pa</text>
<text transform="translate(578.1,375.4) scale(1,1.16)" font-size="8.0">γ</text>
</g>
</svg>
</body></html>
